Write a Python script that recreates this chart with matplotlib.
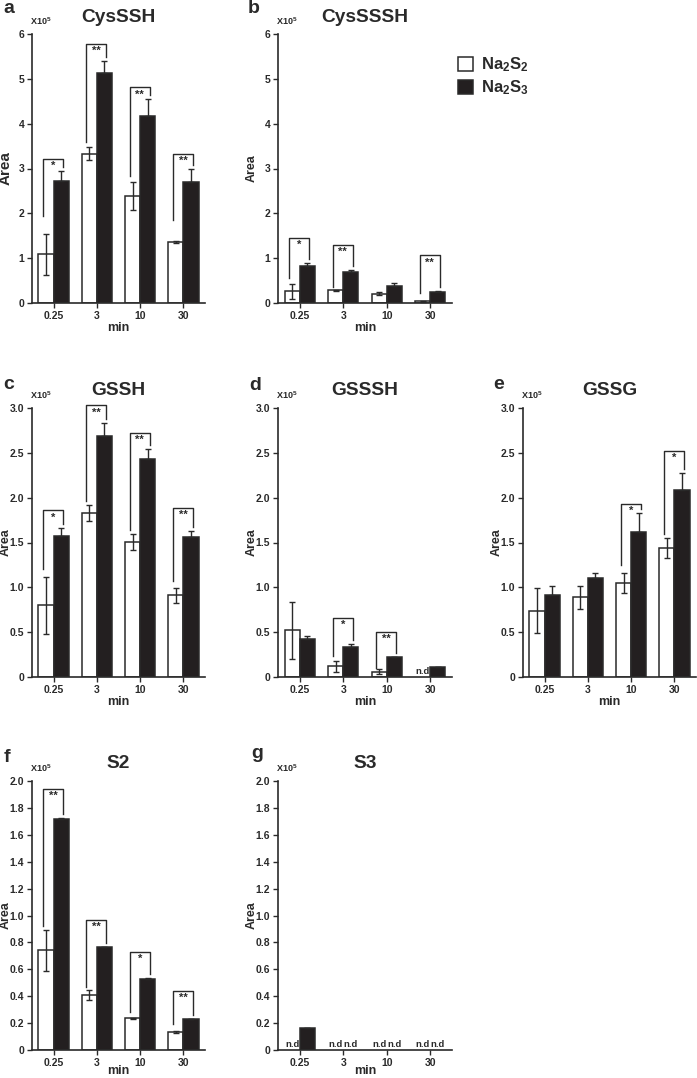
import numpy as np
import matplotlib
matplotlib.use('Agg')
import matplotlib.pyplot as plt
from matplotlib.patches import Patch

plt.rcParams['font.family'] = ['Liberation Sans', 'DejaVu Sans']
plt.rcParams['font.weight'] = 'bold'
plt.rcParams['axes.labelweight'] = 'bold'
plt.rcParams['mathtext.fontset'] = 'custom'
plt.rcParams['mathtext.rm'] = 'Liberation Sans:bold'
plt.rcParams['mathtext.bf'] = 'Liberation Sans:bold'
plt.rcParams['mathtext.it'] = 'Liberation Sans:bold'

# data (Area, x10^5)
times = ['0.25', '3', '10', '30']
nd = np.nan

cysssh_s2 = [1.09, 3.33, 2.38, 1.36]
cysssh_s2_err = [0.46, 0.14, 0.31, 0.02]
cysssh_s3 = [2.73, 5.14, 4.17, 2.70]
cysssh_s3_err = [0.22, 0.26, 0.37, 0.29]
cysssh_sig = ['*', '**', '**', '**']
cysssh_sig_top = [3.21, 5.78, 4.81, 3.33]
cysssh_sig_left = [1.93, 3.60, 2.84, 1.86]

cyssssh_s2 = [0.26, 0.28, 0.21, 0.04]
cyssssh_s2_err = [0.17, 0.01, 0.03, 0.01]
cyssssh_s3 = [0.82, 0.70, 0.37, 0.24]
cyssssh_s3_err = [0.07, 0.03, 0.07, 0.02]
cyssssh_sig = ['*', '**', '', '**']
cyssssh_sig_top = [1.45, 1.30, None, 1.06]
cyssssh_sig_left = [0.56, 0.36, None, 0.22]

gssh_s2 = [0.80, 1.83, 1.51, 0.91]
gssh_s2_err = [0.32, 0.09, 0.09, 0.08]
gssh_s3 = [1.57, 2.69, 2.43, 1.56]
gssh_s3_err = [0.09, 0.14, 0.11, 0.07]
gssh_sig = ['*', '**', '**', '**']
gssh_sig_top = [1.86, 3.03, 2.72, 1.89]
gssh_sig_left = [1.20, 1.96, 1.64, 1.07]

gssssh_s2 = [0.52, 0.12, 0.06, nd]
gssssh_s2_err = [0.32, 0.06, 0.03, 0.0]
gssssh_s3 = [0.42, 0.34, 0.22, 0.11]
gssssh_s3_err = [0.04, 0.03, 0.005, 0.005]
gssssh_sig = ['', '*', '**', '']
gssssh_sig_top = [None, 0.66, 0.50, None]
gssssh_sig_left = [None, 0.23, 0.10, None]

gssg_s2 = [0.74, 0.89, 1.05, 1.44]
gssg_s2_err = [0.25, 0.13, 0.11, 0.11]
gssg_s3 = [0.92, 1.10, 1.62, 2.09]
gssg_s3_err = [0.10, 0.06, 0.21, 0.19]
gssg_sig = ['', '', '*', '*']
gssg_sig_top = [None, None, 1.93, 2.52]
gssg_sig_left = [None, None, 1.25, 1.60]

s2_s2 = [0.74, 0.41, 0.235, 0.136]
s2_s2_err = [0.15, 0.035, 0.005, 0.007]
s2_s3 = [1.72, 0.765, 0.53, 0.228]
s2_s3_err = [0.003, 0.003, 0.003, 0.003]
s2_sig = ['**', '**', '*', '**']
s2_sig_top = [1.94, 0.97, 0.73, 0.44]
s2_sig_left = [0.92, 0.47, 0.285, 0.19]

s3_s2 = [nd, nd, nd, nd]
s3_s2_err = [0, 0, 0, 0]
s3_s3 = [0.163, nd, nd, nd]
s3_s3_err = [0.003, 0, 0, 0]
s3_sig = ['', '', '', '']
s3_sig_top = [None] * 4
s3_sig_left = [None] * 4

W, H = 697, 1078
fig = plt.figure(figsize=(W / 100, H / 100), dpi=100)
dark = '#231f20'
ink = '#2a2a2a'
bw = 0.35


def panel(box, title, s2, s2e, s3, s3e, sig, top, left, ymax, yticks, yfmt, area_fs=9, min_off=25):
    l, r, t, b = box
    ax = fig.add_axes([l / W, 1 - b / H, (r - l) / W, (b - t) / H])
    x = np.arange(len(times))
    for i in range(len(times)):
        for val, err, off, fc in [(s2[i], s2e[i], -bw / 2, 'white'), (s3[i], s3e[i], bw / 2, dark)]:
            if np.isnan(val):
                ax.text(x[i] + off, 0.004 * ymax, 'n.d', ha='center', va='bottom',
                        fontsize=6.8, color=ink)
                continue
            ax.bar(x[i] + off, val, bw, color=fc, edgecolor=ink, linewidth=1.1, zorder=2)
            yerr = err if fc == 'white' else [[0], [err]]
            ax.errorbar(x[i] + off, val, yerr=yerr, fmt='none', ecolor=ink,
                        elinewidth=1, capsize=1.9, capthick=1, zorder=3)
        if sig[i]:
            xl, xr = x[i] - 0.24, x[i] + 0.22
            yr = s3[i] + s3e[i] + 0.015 * ymax
            ax.plot([xl, xl, xr, xr], [left[i], top[i], top[i], yr], color=ink, lw=1,
                    clip_on=False, zorder=4)
            ax.text((xl + xr) / 2, top[i] - 0.008 * ymax, sig[i], ha='center', va='top',
                    fontsize=8, color=ink)
    ax.set_xlim(-0.5, 3.5)
    ax.set_ylim(0, ymax)
    ax.set_xticks(x)
    ax.set_xticklabels(times, fontweight='bold')
    ax.set_yticks(yticks)
    ax.set_yticklabels([yfmt(v) for v in yticks], fontweight='bold')
    ax.tick_params(axis='both', labelsize=7.5, length=3.5, width=1, color=ink, labelcolor=ink, pad=2)
    for s in ['top', 'right']:
        ax.spines[s].set_visible(False)
    for s in ['left', 'bottom']:
        ax.spines[s].set_linewidth(1.2)
        ax.spines[s].set_color(ink)
    ax.set_xlabel('min', fontsize=9, fontweight='bold', color=ink, va='center')
    ax.xaxis.set_label_coords(0.5, -min_off / (b - t))
    ax.set_ylabel('Area', fontsize=area_fs, fontweight='bold', color=ink, va='center')
    ax.yaxis.set_label_coords(-26 / (r - l), 0.5)
    fig.text((l - 2) / W, 1 - (t - 9) / H, r'X10$^5$', fontsize=6.5, ha='left',
             va='baseline', color=ink)
    fig.text((l + r) / 2 / W, 1 - (t - 12.5) / H, title, fontsize=13.8, fontweight='bold',
             ha='center', va='baseline', color=ink)
    return ax


def int_fmt(v):
    return '%d' % v


def dec_fmt(v):
    return '0' if v == 0 else '%.1f' % v


panel((32, 205, 34, 303), 'CysSSH', cysssh_s2, cysssh_s2_err, cysssh_s3, cysssh_s3_err,
      cysssh_sig, cysssh_sig_top, cysssh_sig_left, 6, np.arange(0, 7), int_fmt, area_fs=11)
panel((278, 452, 34, 303), 'CysSSSH', cyssssh_s2, cyssssh_s2_err, cyssssh_s3, cyssssh_s3_err,
      cyssssh_sig, cyssssh_sig_top, cyssssh_sig_left, 6, np.arange(0, 7), int_fmt)
panel((32, 205, 408, 677), 'GSSH', gssh_s2, gssh_s2_err, gssh_s3, gssh_s3_err,
      gssh_sig, gssh_sig_top, gssh_sig_left, 3, np.arange(0, 3.01, 0.5), dec_fmt)
panel((278, 452, 408, 677), 'GSSSH', gssssh_s2, gssssh_s2_err, gssssh_s3, gssssh_s3_err,
      gssssh_sig, gssssh_sig_top, gssssh_sig_left, 3, np.arange(0, 3.01, 0.5), dec_fmt)
panel((523, 696, 408, 677), 'GSSG', gssg_s2, gssg_s2_err, gssg_s3, gssg_s3_err,
      gssg_sig, gssg_sig_top, gssg_sig_left, 3, np.arange(0, 3.01, 0.5), dec_fmt)
panel((32, 205, 781, 1050), 'S2', s2_s2, s2_s2_err, s2_s3, s2_s3_err,
      s2_sig, s2_sig_top, s2_sig_left, 2, np.arange(0, 2.01, 0.2), dec_fmt, min_off=21)
panel((278, 452, 781, 1050), 'S3', s3_s2, s3_s2_err, s3_s3, s3_s3_err,
      s3_sig, s3_sig_top, s3_sig_left, 2, np.arange(0, 2.01, 0.2), dec_fmt, min_off=21)

# panel letters
for letter, px, py in [('a', 3, 13), ('b', 248, 13), ('c', 3, 389), ('d', 249, 390),
                       ('e', 493, 389), ('f', 4, 762), ('g', 251, 758)]:
    fig.text(px / W, 1 - py / H, letter, fontsize=14, fontweight='bold', ha='left',
             va='baseline', color=ink)

# legend
handles = [Patch(facecolor='white', edgecolor=ink, linewidth=1.1),
           Patch(facecolor=dark, edgecolor=ink, linewidth=1.1)]
fig.legend(handles, [r'Na$_2$S$_2$', r'Na$_2$S$_3$'], loc='upper left',
           bbox_to_anchor=(446 / W, 1 - 44 / H), frameon=False, fontsize=12,
           handlelength=0.9, handleheight=0.9, handletextpad=0.5, labelspacing=0.25,
           borderpad=0.2, labelcolor=ink)

fig.savefig('out.png', dpi=100)
